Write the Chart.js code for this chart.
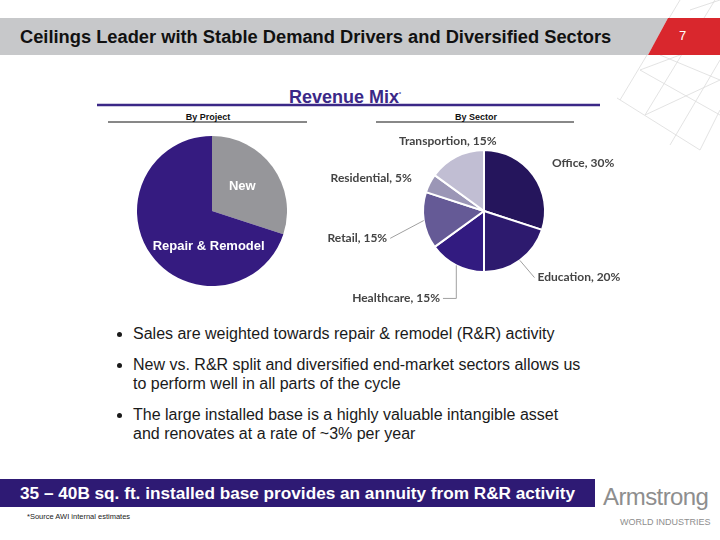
<!DOCTYPE html>
<html>
<head>
<meta charset="utf-8">
<script src="https://cdn.jsdelivr.net/npm/chart.js@4/dist/chart.umd.min.js"></script>
<style>
  body { margin: 0; width: 720px; height: 540px; position: relative; overflow: hidden; background: #fff; font-family: "Liberation Sans", Arial, sans-serif; }
  .abs { position: absolute; }
  #title { left: 20px; top: 26px; font-size: 18.3px; font-weight: bold; color: #111; white-space: nowrap; }
  #pageNo { left: 679px; top: 28px; font-size: 13px; color: #fff; }
  #mix { left: 0; width: 690px; top: 87px; text-align: center; font-size: 18px; font-weight: bold; color: #3b2887; }
  #mix sup { font-size: 5px; }
  .sub { font-size: 9px; font-weight: bold; color: #111; text-align: center; top: 112px; }
  ul { position: absolute; left: 111px; top: 324px; margin: 0; padding: 0 0 0 22px; width: 450px; font-size: 16px; color: #1a1a1a; line-height: 19px; }
  li { margin-bottom: 12px; }
  #banner { left: 0; top: 479px; width: 595px; height: 28px; background: #2e1a74; color: #fff; font-size: 17.2px; font-weight: bold; text-align: center; line-height: 29px; }
  #src { left: 27px; top: 512px; font-size: 7.5px; color: #222; }
  #logo { left: 603px; top: 483px; font-size: 24px; color: #8e8e8e; letter-spacing: -0.6px; }
  #world { left: 620px; top: 517px; font-size: 9px; color: #8e8e8e; }
</style>
</head>
<body>
<svg class="abs" style="left:0;top:0" width="720" height="540">
  <g stroke="#dcdcdc" stroke-width="0.8" fill="none">
    <line x1="680" y1="0" x2="620" y2="100"/>
    <line x1="715" y1="0" x2="645" y2="115"/>
    <line x1="720" y1="60" x2="670" y2="145"/>
    <line x1="720" y1="110" x2="700" y2="150"/>
    <line x1="640" y1="70" x2="720" y2="115"/>
    <line x1="617" y1="98" x2="700" y2="150"/>
    <line x1="660" y1="55" x2="720" y2="80"/>
    <line x1="690" y1="10" x2="720" y2="0"/>
    <line x1="640" y1="70" x2="720" y2="40"/>
    <line x1="645" y1="115" x2="720" y2="80"/>
  </g>
  <polygon points="0,18 668,18 648,55 0,55" fill="#c7c8ca"/>
  <polygon points="668,18 720,18 720,55 648,55" fill="#d9272d"/>
  <line x1="97" y1="105" x2="600" y2="105" stroke="#3b2887" stroke-width="2.5"/>
  <line x1="108" y1="122" x2="307" y2="122" stroke="#111" stroke-width="1"/>
  <line x1="376" y1="122" x2="574" y2="122" stroke="#888" stroke-width="2"/>
</svg>
<div id="title" class="abs">Ceilings Leader with Stable Demand Drivers and Diversified Sectors</div>
<div id="pageNo" class="abs">7</div>
<div id="mix" class="abs">Revenue Mix<sup>*</sup></div>
<div class="abs sub" style="left:108px;width:200px">By Project</div>
<div class="abs sub" style="left:376px;width:200px">By Sector</div>

<div class="abs" style="left:137px;top:136px;width:150px;height:150px"><canvas id="projectChart"></canvas></div>
<div class="abs" style="left:320px;top:130px;width:300px;height:180px"><canvas id="sectorChart"></canvas></div>

<ul>
  <li>Sales are weighted towards repair &amp; remodel (R&amp;R) activity</li>
  <li>New vs. R&amp;R split and diversified end-market sectors allows us to perform well in all parts of the cycle</li>
  <li>The large installed base is a highly valuable intangible asset and renovates at a rate of ~3% per year</li>
</ul>

<div id="banner" class="abs">35 – 40B sq. ft. installed base provides an annuity from R&amp;R activity</div>
<div id="src" class="abs">*Source AWI internal estimates</div>
<div id="logo" class="abs">Armstrong</div>
<div id="world" class="abs">WORLD INDUSTRIES</div>

<script>
var projectLabels = ["New", "Repair & Remodel"];
var projectValues = [30, 70];

var sectorLabels = ["Office", "Education", "Healthcare", "Retail", "Residential", "Transportion"];
var sectorValues = [30, 20, 15, 15, 5, 15];

// inside labels for the project pie
var insideLabels = {
    id: 'insideLabels',
    afterDatasetsDraw: function(chart) {
        var ctx = chart.ctx;
        var nudge = [[0, -3], [27, 13]];
        ctx.save();
        ctx.fillStyle = '#fff';
        ctx.font = 'bold 13px "Liberation Sans", Arial, sans-serif';
        ctx.textAlign = 'center';
        ctx.textBaseline = 'middle';
        chart.getDatasetMeta(0).data.forEach(function(arc, i) {
            var p = arc.tooltipPosition();
            ctx.fillText(chart.data.labels[i], p.x + nudge[i][0], p.y + nudge[i][1]);
        });
        ctx.restore();
    }
};

// outside labels with leader lines for the sector pie
var outsideLabels = {
    id: 'outsideLabels',
    afterDatasetsDraw: function(chart) {
        var ctx = chart.ctx;
        var dist = [23, 30, 36, 37, 20, 19];
        var dy = [1, -7, 1, 12, 4, 1];
        var leader = [false, true, true, true, false, false];
        ctx.save();
        ctx.font = 'bold 12px Lato, "Open Sans", sans-serif';
        ctx.fillStyle = '#444';
        ctx.strokeStyle = '#a0a0a0';
        ctx.lineWidth = 1;
        ctx.textBaseline = 'middle';
        var ds = chart.data.datasets[0];
        chart.getDatasetMeta(0).data.forEach(function(arc, i) {
            var mid = (arc.startAngle + arc.endAngle) / 2;
            var cx = arc.x, cy = arc.y, r = arc.outerRadius;
            var cos = Math.cos(mid), sin = Math.sin(mid);
            var lx = cx + (r + dist[i]) * cos;
            var ly = cy + (r + dist[i]) * sin + dy[i];
            var text = chart.data.labels[i] + ', ' + ds.data[i] + '%';
            if (Math.abs(cos) < 0.5 && sin < 0) ctx.textAlign = 'center';
            else ctx.textAlign = cos >= 0 ? 'left' : 'right';
            if (leader[i]) {
                var ex = cx + r * cos, ey = cy + r * sin;
                ctx.beginPath();
                ctx.moveTo(ex, ey);
                if (i === 2) {
                    ctx.lineTo(ex, ly);
                    ctx.lineTo(lx + 3, ly);
                } else {
                    ctx.lineTo(lx + (cos >= 0 ? -3 : 3), ly);
                }
                ctx.stroke();
            }
            ctx.fillText(text, lx, ly);
        });
        ctx.restore();
    }
};

new Chart(document.getElementById('projectChart'), {
    type: 'pie',
    data: {
        labels: projectLabels,
        datasets: [{
            data: projectValues,
            backgroundColor: ["#96969a", "#351b80"],
            borderWidth: 0
        }]
    },
    options: {
        responsive: true,
        maintainAspectRatio: false,
        animation: false,
        plugins: { legend: { display: false }, tooltip: { enabled: false } }
    },
    plugins: [insideLabels]
});

new Chart(document.getElementById('sectorChart'), {
    type: 'pie',
    data: {
        labels: sectorLabels,
        datasets: [{
            data: sectorValues,
            backgroundColor: ["#25155c", "#2d1a6e", "#321b80", "#655a96", "#9b96b6", "#c1bed3"],
            borderColor: "#fff",
            borderWidth: 2
        }]
    },
    options: {
        responsive: true,
        maintainAspectRatio: false,
        animation: false,
        layout: { padding: { left: 102, right: 74, top: 19, bottom: 37 } },
        plugins: { legend: { display: false }, tooltip: { enabled: false } }
    },
    plugins: [outsideLabels]
});
</script>
</body>
</html>
